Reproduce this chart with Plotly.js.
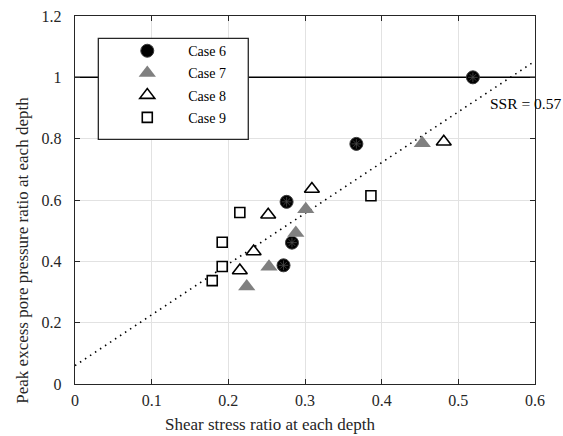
<!DOCTYPE html>
<html>
<head>
<meta charset="utf-8">
<script src="https://cdn.plot.ly/plotly-3.0.1.min.js"></script>
<style>html,body{margin:0;padding:0;background:#fff;}#chart{width:563px;height:436px;}</style>
</head>
<body>
<div id="chart"></div>
<script>
// ---- data ----
const case6X = [0.519, 0.367, 0.276, 0.283, 0.272];
const case6Y = [1.000, 0.783, 0.594, 0.461, 0.387];
const case7X = [0.453, 0.301, 0.288, 0.253, 0.224];
const case7Y = [0.785, 0.570, 0.492, 0.382, 0.318];
const case8X = [0.481, 0.309, 0.252, 0.233, 0.215];
const case8Y = [0.790, 0.636, 0.552, 0.432, 0.370];
const case9X = [0.386, 0.215, 0.192, 0.192, 0.179];
const case9Y = [0.614, 0.559, 0.462, 0.383, 0.337];
const limitX = [0, 0.6];
const limitY = [1, 1];
const trendX = [0, 0.6];
const trendY = [0.06, 1.053];
const seriesNames = ["Case 6", "Case 7", "Case 8", "Case 9"];
const ssrLabel = "SSR = 0.57";
const ssrPos = [0.539, 0.916];
const xTicks = [0, 0.1, 0.2, 0.3, 0.4, 0.5, 0.6];
const xTickText = ["0", "0.1", "0.2", "0.3", "0.4", "0.5", "0.6"];
const yTicks = [0, 0.2, 0.4, 0.6, 0.8, 1, 1.2];
const yTickText = ["0", "0.2", "0.4", "0.6", "0.8", "1", "1.2"];
const xTitle = "Shear stress ratio at each depth";
const yTitle = "Peak excess pore pressure ratio at each depth";

const FONT = "Liberation Serif";
const INK = "#262626";

const traces = [
  {x: limitX, y: limitY, mode: "lines", line: {color: "#000", width: 1.5}, showlegend: false, hoverinfo: "skip"},
  {x: trendX, y: trendY, mode: "lines", line: {color: "#000", width: 1.6, dash: "1.5px,4.5px"}, showlegend: false, hoverinfo: "skip"},
  {x: case6X, y: case6Y, name: seriesNames[0], legendgroup: "g6", mode: "markers",
   marker: {symbol: "circle", size: 13, color: "#000", line: {color: "#3a3a3a", width: 1}}},
  {x: case6X, y: case6Y, legendgroup: "g6", mode: "markers", showlegend: false, hoverinfo: "skip",
   marker: {symbol: "asterisk-open", size: 8, color: "#4a4a4a", line: {color: "#4a4a4a", width: 0.8}}},
  {x: case7X, y: case7Y, name: seriesNames[1], legendgroup: "g7", mode: "markers",
   marker: {symbol: "triangle-up", size: 15, color: "#808080", line: {width: 0}}},
  {x: case8X, y: case8Y, name: seriesNames[2], legendgroup: "g8", mode: "markers",
   marker: {symbol: "triangle-up", size: 13, color: "#fff", line: {color: "#000", width: 1.6}}},
  {x: case9X, y: case9Y, name: seriesNames[3], legendgroup: "g9", mode: "markers",
   marker: {symbol: "square", size: 10, color: "#fff", line: {color: "#000", width: 1.6}}}
];

const axisCommon = {
  showline: true, linecolor: INK, linewidth: 1.3, mirror: "allticks",
  ticks: "inside", ticklen: 5, tickwidth: 1, tickcolor: INK,
  showgrid: true, gridcolor: "#e2e2e2", gridwidth: 1, zeroline: false,
  tickfont: {family: FONT, size: 16, color: INK}
};

const layout = {
  width: 563, height: 436,
  margin: {l: 75, r: 28, t: 16, b: 52, pad: 0},
  paper_bgcolor: "#fff", plot_bgcolor: "#fff",
  font: {family: FONT, size: 14, color: INK},
  xaxis: Object.assign({}, axisCommon, {range: [0, 0.6], tickvals: xTicks, ticktext: xTickText, ticklabelstandoff: 1}),
  yaxis: Object.assign({}, axisCommon, {range: [0, 1.2], tickvals: yTicks, ticktext: yTickText, ticklabelstandoff: 9}),
  showlegend: true,
  legend: {
    x: 0.068, y: 0.948, xanchor: "left", yanchor: "top",
    bgcolor: "rgba(0,0,0,0)", borderwidth: 0,
    itemwidth: 72, tracegroupgap: 1,
    font: {family: FONT, size: 14, color: "#000"}
  },
  shapes: [
    {type: "rect", xref: "paper", yref: "paper", x0: 0.0507, x1: 0.3767, y0: 0.665, y1: 0.9394,
     fillcolor: "#fff", line: {color: INK, width: 1.3}, layer: "above"}
  ],
  annotations: [
    {x: ssrPos[0], y: ssrPos[1], xref: "x", yref: "y", text: ssrLabel, showarrow: false,
     xanchor: "left", yanchor: "middle", font: {family: FONT, size: 15.5, color: "#000"}},
    {x: 0.424, y: -0.111, xref: "paper", yref: "paper", text: xTitle, showarrow: false,
     xanchor: "center", yanchor: "middle", font: {family: FONT, size: 17, color: INK}},
    {x: -0.116, y: 0.364, xref: "paper", yref: "paper", text: yTitle, showarrow: false, textangle: -90,
     xanchor: "center", yanchor: "middle", font: {family: FONT, size: 17, color: INK}}
  ]
};

Plotly.newPlot("chart", traces, layout, {displayModeBar: false, staticPlot: true});
</script>
</body>
</html>
